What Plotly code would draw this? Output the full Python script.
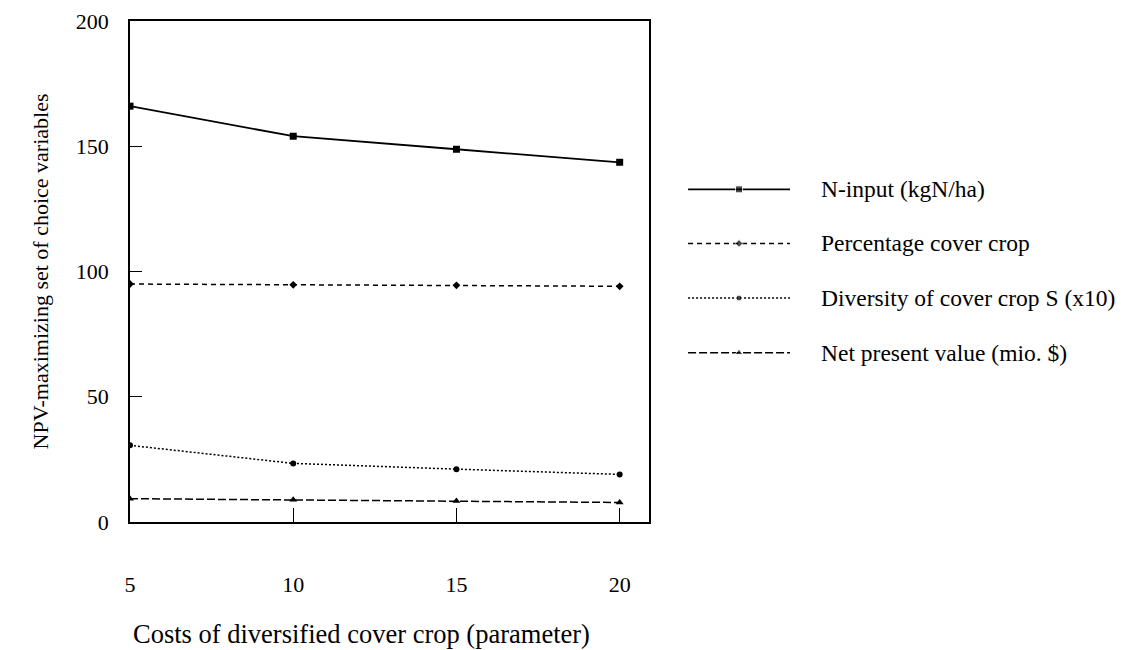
import plotly.graph_objects as go

costs = [5, 10, 15, 20]
n_input = [166.0, 154.0, 148.8, 143.6]
pct_cover = [95.0, 94.7, 94.5, 94.1]
diversity = [30.6, 23.4, 21.1, 19.0]
npv = [9.3, 8.9, 8.4, 7.8]

names = ["N-input (kgN/ha)", "Percentage cover crop",
         "Diversity of cover crop S (x10)", "Net present value (mio. $)"]
series = [n_input, pct_cover, diversity, npv]
dashes = ["solid", "5px,4px", "2px,2px", "8px,3px"]
symbols = ["square", "diamond", "circle", "triangle-up"]
sizes = [7, 6, 6, 7]
widths = [1.8, 1.5, 1.5, 1.5]

FONT = "Liberation Serif"
fig = go.Figure()

for nm, ys, d, s, sz, w in zip(names, series, dashes, symbols, sizes, widths):
    fig.add_trace(go.Scatter(x=costs, y=ys, mode="lines+markers", name=nm,
                             line=dict(color="black", width=w, dash=d),
                             marker=dict(symbol=s, size=sz, color="black"),
                             showlegend=False, xaxis="x", yaxis="y"))

# custom legend (long line samples) on a hidden helper axis
leg_y = [0.664, 0.556, 0.447, 0.338]
for nm, ly, d, s, sz, w in zip(names, leg_y, dashes, symbols, sizes, widths):
    fig.add_trace(go.Scatter(x=[0, 0.5, 1], y=[ly, ly, ly], mode="lines+markers",
                             line=dict(color="black", width=w, dash=d),
                             marker=dict(symbol=s, size=[0, sz, 0], color="black"),
                             showlegend=False, hoverinfo="skip",
                             xaxis="x2", yaxis="y2"))
    fig.add_annotation(text=nm, x=0.6815, y=ly, xref="paper", yref="paper",
                       xanchor="left", yanchor="middle", showarrow=False,
                       font=dict(family=FONT, size=23.5, color="black"))

# x-axis title (placed slightly left of plot centre, as in the original)
fig.add_annotation(text="Costs of diversified cover crop (parameter)",
                   x=0.2285, y=-0.224, xref="paper", yref="paper",
                   xanchor="center", yanchor="middle", showarrow=False,
                   font=dict(family=FONT, size=26.5, color="black"))

axis_common = dict(showline=True, linecolor="black", linewidth=1.6, mirror=True,
                   ticks="inside", tickcolor="black", tickwidth=1.4,
                   showgrid=False, zeroline=False, automargin=False,
                   ticklabeloverflow="allow",
                   tickfont=dict(family=FONT, size=22, color="black"))

fig.update_layout(
    width=1133, height=650,
    margin=dict(l=122, r=0, t=13, b=136),
    paper_bgcolor="white", plot_bgcolor="white",
    xaxis=dict(domain=[0, 0.5134], range=[5, 20.9], tickvals=[5, 10, 15, 20],
               ticklen=14, ticklabelstandoff=42, **axis_common),
    yaxis=dict(range=[0, 200], tickvals=[0, 50, 100, 150, 200], ticklen=12,
               ticklabelstandoff=15,
               title=dict(text="NPV-maximizing set of choice variables",
                          font=dict(family=FONT, size=22, color="black"), standoff=21),
               **axis_common),
    xaxis2=dict(domain=[0.552, 0.6528], range=[0, 1], visible=False, fixedrange=True,
                anchor="y2"),
    yaxis2=dict(domain=[0, 1], range=[0, 1], visible=False, fixedrange=True,
                anchor="x2"),
    showlegend=False,
)

fig.write_html("out.html")
